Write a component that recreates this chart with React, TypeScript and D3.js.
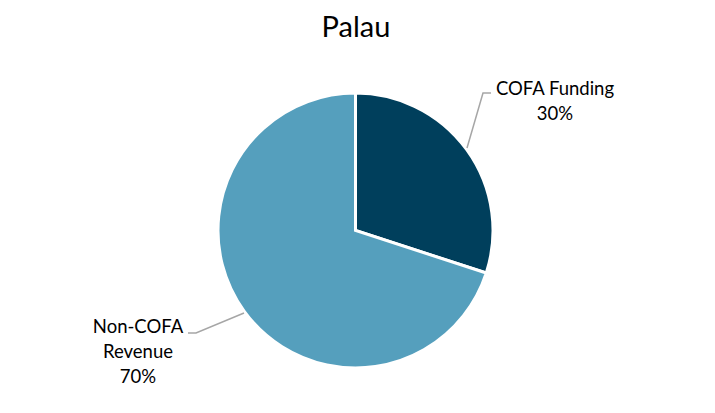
import React from "react";
import * as d3 from "d3";

const categories = ["COFA Funding", "Non-COFA Revenue"];
const values = [30, 70];
const labelLines = [["COFA Funding", "30%"], ["Non-COFA", "Revenue", "70%"]];
const colors = ["#003F5C", "#559FBD"];

export default function App() {
  const W = 715, H = 413;
  const cx = 355.5, cy = 230.5, r = 137.5;
  const pie = d3.pie<number>().sort(null).value((d) => d)(values);
  const arc = d3.arc<d3.PieArcDatum<number>>().innerRadius(0).outerRadius(r);
  const font = "Lato, 'Open Sans', sans-serif";
  return (
    <svg width={W} height={H} style={{ position: "absolute", left: 0, top: 0 }}>
      <rect width={W} height={H} fill="#fff" />
      <text x={356} y={37} textAnchor="middle" fontSize={29} fontFamily={font} fill="#000">Palau</text>
      <g transform={`translate(${cx},${cy})`}>
        {pie.map((p, i) => (
          <path key={categories[i]} d={arc(p) || ""} fill={colors[i]} stroke="#fff" strokeWidth={3} strokeLinejoin="miter" />
        ))}
      </g>
      <polyline points="467,148 483,93 491,93" fill="none" stroke="#A6A6A6" strokeWidth={1.5} />
      <polyline points="244,313 196,333 188,333" fill="none" stroke="#A6A6A6" strokeWidth={1.5} />
      <text textAnchor="middle" fontSize={18.5} fontFamily={font} fill="#000">
        {labelLines[0].map((t, j) => (
          <tspan key={t} x={555} y={95 + j * 25}>{t}</tspan>
        ))}
      </text>
      <text textAnchor="middle" fontSize={18.5} fontFamily={font} fill="#000">
        {labelLines[1].map((t, j) => (
          <tspan key={t} x={138} y={333 + j * 25}>{t}</tspan>
        ))}
      </text>
    </svg>
  );
}
